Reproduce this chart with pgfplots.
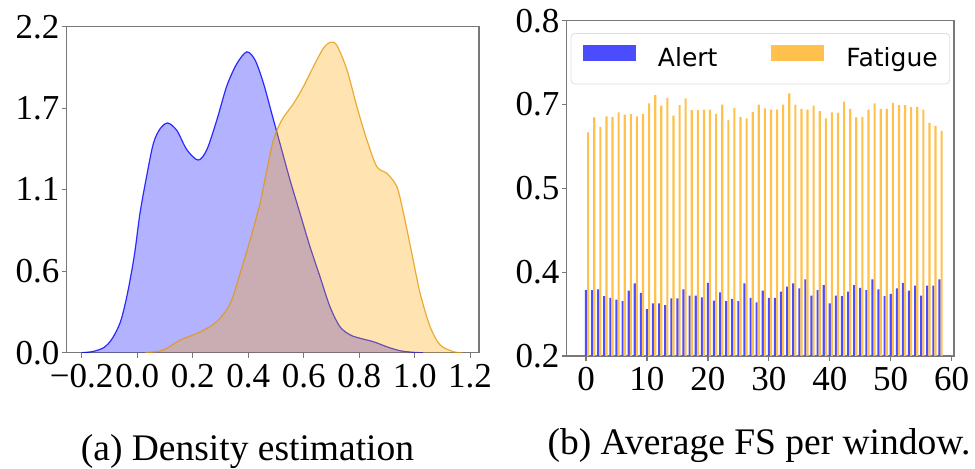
\documentclass[border=0pt]{standalone}
\usepackage{pgfplots}
\usepackage{pgfplotstable}
\pgfplotsset{compat=1.18}
\usepackage{fontspec}
\setmainfont{Liberation Serif}
\newfontfamily\dejavu{DejaVu Sans}
\definecolor{kblue}{RGB}{0,0,255}
\definecolor{korange}{RGB}{255,165,0}
\definecolor{spine}{RGB}{120,120,120}

\pgfplotstableread{
alert fatigue
0.318 0.600
0.318 0.627
0.319 0.610
0.307 0.629
0.304 0.628
0.301 0.636
0.298 0.632
0.317 0.633
0.330 0.629
0.313 0.633
0.284 0.652
0.294 0.667
0.294 0.648
0.291 0.662
0.303 0.630
0.303 0.649
0.319 0.661
0.308 0.640
0.308 0.640
0.305 0.641
0.331 0.641
0.299 0.633
0.314 0.650
0.298 0.622
0.302 0.644
0.298 0.628
0.330 0.625
0.304 0.637
0.296 0.650
0.317 0.643
0.304 0.641
0.304 0.641
0.315 0.650
0.324 0.670
0.330 0.650
0.321 0.642
0.337 0.641
0.308 0.648
0.318 0.638
0.327 0.625
0.294 0.636
0.308 0.635
0.307 0.655
0.315 0.642
0.327 0.627
0.322 0.628
0.318 0.641
0.337 0.652
0.319 0.642
0.307 0.642
0.311 0.653
0.321 0.649
0.331 0.649
0.317 0.646
0.326 0.646
0.308 0.641
0.326 0.617
0.326 0.612
0.337 0.603
}\fsdata

\pgfplotsset{
  mystyle/.style={
    scale only axis,
    axis line style={spine, line width=0.6pt},
    tick style={spine, line width=0.6pt},
    tick align=outside,
    major tick length=2.5pt,
    xtick pos=bottom, ytick pos=left,
    ticklabel style={font=\fontsize{17.5}{17.5}\selectfont, text=black, inner sep=0pt},
    xticklabel style={yshift=-3pt},
    yticklabel style={xshift=-1pt},
    /pgf/number format/assume math mode=true,
  }
}

\begin{document}
\begin{tikzpicture}
\path[use as bounding box] (-33.35pt,-58.15pt) rectangle (454.15pt,176.35pt);

\begin{axis}[mystyle, width=206.15pt, height=163pt,
  xmin=-0.254, xmax=1.232, ymin=0, ymax=2.2,
  xtick={-0.2,0,0.2,0.4,0.6,0.8,1.0,1.2},
  xticklabels={−0.2,0.0,0.2,0.4,0.6,0.8,1.0,1.2},
  ytick={0,0.55,1.1,1.65,2.2},
  yticklabels={0.0,0.6,1.1,1.7,2.2}]
\addplot[smooth, draw=kblue, draw opacity=0.8, line width=0.6pt, fill=kblue, fill opacity=0.3] coordinates {
(-0.20,0.000) (-0.16,0.008) (-0.12,0.035) (-0.09,0.095) (-0.06,0.21)
(-0.035,0.40) (-0.01,0.66) (0.01,0.94) (0.034,1.19) (0.058,1.41)
(0.082,1.51) (0.11,1.55) (0.143,1.50) (0.179,1.37) (0.22,1.30)
(0.251,1.37) (0.287,1.57) (0.323,1.80) (0.359,1.95) (0.395,2.03)
(0.425,1.975) (0.455,1.82) (0.485,1.615) (0.515,1.41) (0.551,1.165)
(0.587,0.94) (0.623,0.715) (0.659,0.513) (0.695,0.31) (0.731,0.175)
(0.768,0.12) (0.804,0.097) (0.852,0.074) (0.90,0.04) (0.948,0.013)
(1.00,0.002) (1.03,0.0)};
\addplot[smooth, draw=korange!90!black, draw opacity=0.75, line width=0.6pt, fill=korange, fill opacity=0.3] coordinates {
(0.03,0.0) (0.094,0.018) (0.155,0.085) (0.227,0.14) (0.287,0.21)
(0.335,0.33) (0.371,0.535) (0.407,0.76) (0.443,1.01) (0.467,1.23)
(0.491,1.435) (0.521,1.57) (0.563,1.68) (0.599,1.795) (0.635,1.93)
(0.671,2.054) (0.695,2.094) (0.719,2.076) (0.756,1.91) (0.792,1.66)
(0.828,1.435) (0.864,1.255) (0.90,1.21) (0.936,1.12) (0.960,0.94)
(0.990,0.67) (1.02,0.40) (1.056,0.175) (1.092,0.052) (1.14,0.007)
(1.17,0.0)};
\end{axis}

\begin{axis}[mystyle, at={(250pt,-1.65pt)}, width=193.65pt, height=167.65pt,
  xmin=-3.17, xmax=60.38, ymin=0.2, ymax=0.8,
  xtick={0,10,20,30,40,50,60},
  xticklabels={0,10,20,30,40,50,60},
  ytick={0.2,0.35,0.5,0.65,0.8},
  yticklabels={0.2,0.4,0.5,0.7,0.8},
  ybar=0pt, bar width=0.35, bar shift=0pt,
  legend columns=2,
  legend image code/.code={\fill[#1, sharp corners] (0pt,-0.5pt) rectangle (26.5pt,7.5pt);},
  legend style={at={(0.5,1)}, anchor=north, yshift=-6.15pt,
    draw=gray!25, rounded corners=2pt, fill=white,
    font=\dejavu\fontsize{12.5}{12.5}\selectfont,
    inner xsep=6pt, inner ysep=6pt,
    nodes={inner sep=0pt, text height=9pt, text depth=2.5pt},
    /tikz/every odd column/.append style={column sep=11pt},
    /tikz/every even column/.append style={column sep=27pt}},
  ]
\addplot[draw=none, fill=kblue!70] table[x expr=\coordindex, y=alert] {\fsdata};
\addplot[draw=none, fill=korange!70] table[x expr=\coordindex+0.35, y=fatigue] {\fsdata};
\legend{Alert, Fatigue}
\end{axis}

\node[anchor=base, font=\fontsize{18.75}{18.75}\selectfont] at (90.4pt,-54.15pt) {(a) Density estimation};
\node[anchor=base, font=\fontsize{18.75}{18.75}\selectfont] at (346.15pt,-51.15pt) {(b) Average FS per window.};
\end{tikzpicture}
\end{document}
